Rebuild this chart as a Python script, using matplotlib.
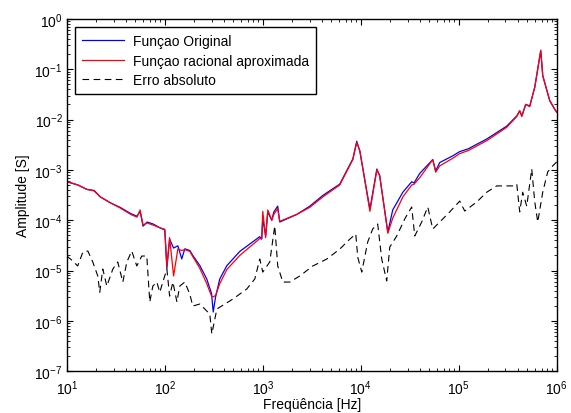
import numpy as np
import matplotlib
matplotlib.use('Agg')
import matplotlib.pyplot as plt
from matplotlib.ticker import LogLocator, NullFormatter

plt.rcParams['font.family'] = ['Liberation Sans', 'DejaVu Sans']

# frequencies [Hz] of the traced points for the two transfer functions
freq = [10, 13, 16, 19, 22, 28, 35, 45, 52, 56, 60, 66, 76, 90, 100, 105, 112, 123,
        136, 149, 160, 180, 193, 228, 268, 300, 312, 330, 364, 430, 583, 930, 975,
        1000, 1070, 1125, 1235, 1295, 1420, 1490, 2220, 3020, 4100, 6100, 8300, 9100,
        9800, 12400, 14600, 15600, 18900, 21200, 26900, 33100, 35000, 40000, 54300,
        58200, 64000, 86900, 102000, 124000, 193000, 309000, 391000, 419000, 440000,
        483000, 530000, 597000, 687000, 720000, 849000, 955000, 1000000]

original = [5.8e-4, 5.0e-4, 4.1e-4, 3.9e-4, 2.9e-4, 2.2e-4, 1.8e-4, 1.35e-4, 1.2e-4,
            1.5e-4, 7.6e-5, 9.2e-5, 8.4e-5, 7.0e-5, 6.4e-5, 1.1e-5, 4.2e-5, 2.8e-5,
            3.1e-5, 1.7e-5, 2.7e-5, 2.5e-5, 2.0e-5, 1.25e-5, 6.8e-6, 3.5e-6, 1.5e-6,
            3.0e-6, 6.8e-6, 1.25e-5, 2.4e-5, 4.7e-5, 4.2e-5, 1.05e-4, 4.9e-5, 1.45e-4,
            1.0e-4, 1.45e-4, 1.9e-4, 9.2e-5, 1.3e-4, 1.9e-4, 3.1e-4, 5.2e-4, 1.65e-3,
            3.7e-3, 2.3e-3, 1.66e-4, 1.04e-3, 7.6e-4, 5.8e-5, 1.6e-4, 3.6e-4, 5.8e-4,
            5.5e-4, 8.5e-4, 1.6e-3, 9.5e-4, 1.4e-3, 1.9e-3, 2.3e-3, 2.6e-3, 4.1e-3,
            7.4e-3, 1.18e-2, 1.48e-2, 1.18e-2, 2.0e-2, 1.86e-2, 4.4e-2, 0.23, 7.4e-2,
            2.35e-2, 1.6e-2, 1.4e-2]

rational = [5.9e-4, 5.0e-4, 4.1e-4, 3.8e-4, 2.9e-4, 2.2e-4, 1.75e-4, 1.3e-4, 1.15e-4,
            1.6e-4, 8.0e-5, 8.8e-5, 8.0e-5, 7.0e-5, 6.6e-5, 1.2e-5, 4.5e-5, 7.8e-6,
            2.7e-5, 2.5e-5, 2.6e-5, 2.4e-5, 1.9e-5, 1.1e-5, 5.5e-6, 3.1e-6, 3.0e-6,
            3.2e-6, 5.5e-6, 1.05e-5, 2.0e-5, 4.3e-5, 4.3e-5, 1.5e-4, 4.5e-5, 1.6e-4,
            1.0e-4, 1.3e-4, 1.7e-4, 9.5e-5, 1.3e-4, 1.8e-4, 2.9e-4, 5.0e-4, 1.6e-3,
            3.5e-3, 2.4e-3, 1.5e-4, 1.0e-3, 7.8e-4, 5.5e-5, 1.1e-4, 2.9e-4, 5.0e-4,
            5.2e-4, 7.0e-4, 1.6e-3, 9.0e-4, 1.2e-3, 1.7e-3, 2.1e-3, 2.4e-3, 3.8e-3,
            7.0e-3, 1.15e-2, 1.5e-2, 1.15e-2, 2.0e-2, 1.8e-2, 4.4e-2, 0.24, 7.5e-2,
            2.4e-2, 1.6e-2, 1.4e-2]

# absolute error, traced separately
freq_err = [10, 11.5, 12.9, 14.6, 16.4, 18.4, 20.7, 21.7, 23.3, 25.6, 29.5, 33.1, 37.3,
            41.0, 46.0, 51.8, 58.2, 65.5, 70.3, 75.5, 82.9, 88.9, 95.5, 105, 112, 121,
            133, 142, 160, 180, 193, 228, 288, 302, 340, 410, 494, 687, 829, 932, 1000,
            1178, 1325, 1422, 1600, 1887, 2388, 3238, 4498, 6110, 7727, 8895, 9316,
            10240, 11780, 13250, 14890, 16370, 18400, 19770, 23290, 28120, 33110, 35560,
            41880, 48270, 54300, 63970, 80910, 102400, 115100, 152700, 193100, 244300,
            355600, 390900, 419000, 449600, 494200, 556000, 597000, 640000, 719600,
            809000, 910000, 1000000]

erro = [1.94e-5, 1.55e-5, 1.23e-5, 2.33e-5, 2.44e-5, 1.48e-5, 7.8e-6, 3.7e-6, 1.07e-5,
        4.9e-6, 1.07e-5, 1.48e-5, 5.9e-6, 1.48e-5, 2.44e-5, 1.23e-5, 1.94e-5, 1.94e-5,
        2.37e-6, 4.9e-6, 5.9e-6, 3.7e-6, 5.9e-6, 1.07e-5, 3.1e-6, 5.9e-6, 2.37e-6,
        4.9e-6, 5.9e-6, 3.4e-6, 1.97e-6, 2.16e-6, 1.36e-6, 5.5e-7, 1.72e-6, 2.16e-6,
        2.7e-6, 4.3e-6, 6.8e-6, 1.69e-5, 9.3e-6, 1.48e-5, 7.7e-5, 1.23e-5, 5.9e-6,
        5.9e-6, 7.8e-6, 1.23e-5, 1.69e-5, 2.67e-5, 4.2e-5, 5.3e-5, 1.85e-5, 9.3e-6,
        3.7e-5, 6.7e-5, 8.4e-5, 1.69e-5, 6.2e-6, 2.93e-5, 4.85e-5, 1.06e-4, 1.83e-4,
        4.85e-5, 9.2e-5, 1.83e-4, 6.7e-5, 9.2e-5, 1.46e-4, 2.4e-4, 1.52e-4, 2.3e-4,
        3.6e-4, 4.8e-4, 4.8e-4, 5.25e-4, 1.46e-4, 3.6e-4, 1.9e-4, 1.04e-3, 2.3e-4,
        9.2e-5, 3.6e-4, 9.1e-4, 1.2e-3, 1.44e-3]

fig = plt.figure(figsize=(5.71, 4.14), dpi=100)
ax = fig.add_axes([0.117, 0.101, 0.858, 0.851])

ax.loglog(freq, original, color='blue', lw=0.9, label='Funçao Original')
ax.loglog(freq, rational, color='red', lw=0.9, label='Funçao racional aproximada')
ax.loglog(freq_err, erro, color='black', lw=0.8, ls=(0, (6, 4)), label='Erro absoluto')

ax.set_xlim(10, 1e6)
ax.set_ylim(1e-7, 1)
ax.xaxis.set_minor_locator(LogLocator(base=10, subs=np.arange(2, 10)))
ax.yaxis.set_minor_locator(LogLocator(base=10, subs=np.arange(2, 10)))
ax.xaxis.set_minor_formatter(NullFormatter())
ax.yaxis.set_minor_formatter(NullFormatter())
ax.tick_params(which='both', direction='in', top=True, right=True, labelsize=10)
ax.tick_params(which='major', length=4, pad=3)
ax.tick_params(axis='x', which='major', pad=5)
ax.tick_params(which='minor', length=2)
for s in ax.spines.values():
    s.set_linewidth(1.0)

ax.set_xlabel('Freqüência [Hz]', fontsize=10, labelpad=0)
ax.set_ylabel('Amplitude [S]', fontsize=10, labelpad=3)

leg = ax.legend(loc='upper left', fontsize=10, fancybox=False, framealpha=1,
                edgecolor='black', handlelength=3.0, handletextpad=0.65,
                borderaxespad=0.6, labelspacing=0.4, borderpad=0.5)
leg.get_frame().set_linewidth(1.0)

fig.savefig('out.png', dpi=100)
